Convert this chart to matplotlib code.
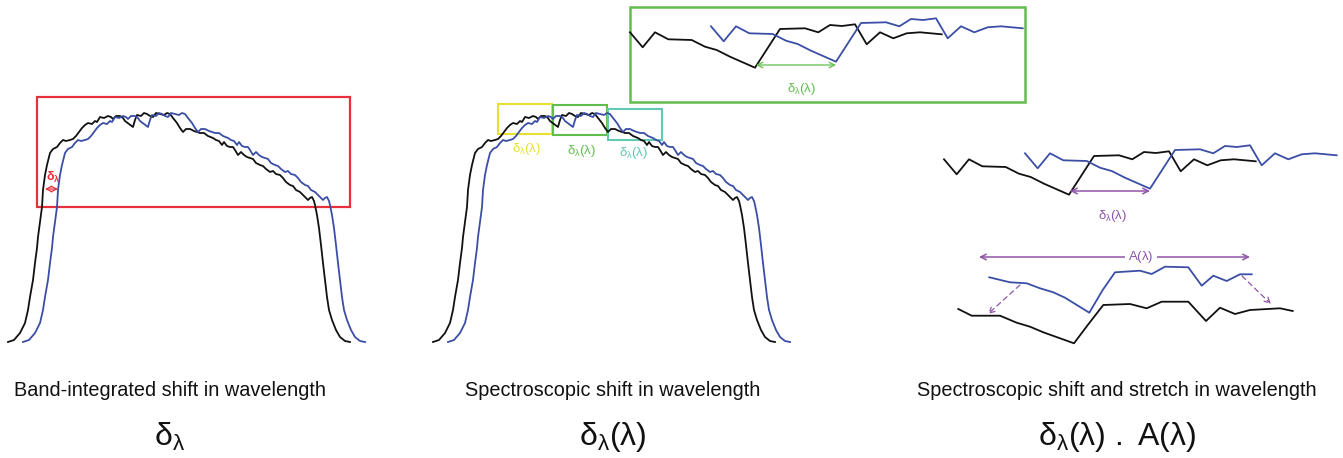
import matplotlib.pyplot as plt
import numpy as np

plt.rcParams['font.family'] = ['Liberation Sans', 'DejaVu Sans']
plt.rcParams['mathtext.fontset'] = 'custom'
plt.rcParams['mathtext.rm'] = 'Liberation Sans'
plt.rcParams['mathtext.it'] = 'Liberation Sans'
plt.rcParams['mathtext.default'] = 'regular'

# filter transmission profile (black), pixel units of the first panel
band_x = [8, 14, 20, 25, 28, 30, 33, 35, 37, 38, 40, 42, 43, 45, 47, 50, 53, 57, 60, 63,
          66, 70, 73, 76, 79, 82, 85, 88, 92, 95, 97, 100, 104, 108, 111, 113, 116, 120,
          123, 125, 129, 133, 135, 137, 141, 144, 147, 150, 153, 156, 160, 164, 167, 170,
          173, 177, 180, 183, 186, 190, 194, 197, 200, 204, 208, 213, 216, 219, 222, 224,
          227, 230, 233, 235, 238, 241, 244, 247, 250, 253, 256, 260, 263, 266, 270, 273,
          276, 280, 283, 286, 290, 293, 296, 300, 303, 306, 308, 310, 312, 314, 315, 317,
          319, 321, 323, 325, 327, 329, 332, 336, 340, 345, 350]
band_y = [342, 340, 333, 323, 310, 297, 280, 263, 248, 237, 222, 207, 190, 175, 165, 153,
          149, 147, 143, 140, 141, 140, 139, 136, 132, 128, 125, 123, 124, 121, 122, 117,
          118, 116, 117, 119, 116, 116, 118, 121, 124, 127, 120, 115, 116, 113, 114, 116,
          117, 113, 114, 115, 113, 114, 118, 123, 128, 132, 129, 129, 131, 132, 133, 133,
          136, 138, 140, 141, 145, 142, 146, 147, 147, 150, 155, 152, 155, 157, 158, 159,
          163, 165, 166, 169, 172, 171, 174, 175, 178, 182, 185, 186, 190, 192, 195, 198,
          200, 198, 197, 201, 205, 215, 228, 245, 263, 280, 297, 310, 320, 330, 337, 341,
          342]

# zoomed-in stretch of the profile (black), shown in the green inset
detail_x = [630, 642.7, 655, 668.3, 691.7, 705, 716.7, 730, 755, 780, 805, 818.3, 830,
            842, 855, 866.7, 880, 893.3, 906.7, 920, 941.7]
detail_y = [32.3, 47.3, 32.3, 39.3, 40, 46.7, 50, 56.7, 67.7, 29, 28.3, 32.3, 25, 26,
            24.3, 44.3, 32.3, 38.3, 33.3, 32.3, 34.3]

# shifted-and-stretched pair in the third panel
stretch_black_x = [958.3, 971.7, 1000, 1016.7, 1030, 1043.3, 1074, 1088.3, 1103.3, 1130,
                   1146.7, 1161.7, 1188.3, 1206, 1220, 1235, 1250, 1280, 1292.7]
stretch_black_y = [309, 315.7, 315.7, 322.7, 326.7, 332.3, 343.3, 324.3, 305, 304, 308.3,
                   301.7, 301.7, 321, 307.7, 314, 310, 308.3, 311]
stretch_blue_x = [989.3, 1010, 1026.7, 1040, 1053.3, 1065, 1089.3, 1102.7, 1115, 1140,
                  1151.7, 1165, 1188.3, 1201.7, 1213.3, 1226.7, 1240, 1251.7]
stretch_blue_y = [277.3, 282.3, 283.3, 288.3, 292.3, 297.7, 312.7, 290, 272.3, 270.7, 274,
                  266.7, 267.3, 285.7, 275.7, 281, 274.3, 274.3]

titles = ['Band-integrated shift in wavelength', 'Spectroscopic shift in wavelength',
          'Spectroscopic shift and stretch in wavelength']
symbols = [r'$\delta_{\lambda}$', r'$\delta_{\lambda}(\lambda)$',
           r'$\delta_{\lambda}(\lambda)\ .\ A(\lambda)$']
title_x = [170, 613, 1117]

BLACK = '#111111'
BLUE = '#3b4ea6'
RED = '#e8303c'
YELLOW = '#e6e12e'
GREEN = '#62bd4f'
TEAL = '#62c9b2'
PURPLE = '#8f55a8'

fig = plt.figure(figsize=(13.43, 4.58), dpi=100)
ax = fig.add_axes([0, 0, 1, 1])
ax.set_xlim(0, 1343)
ax.set_ylim(458, 0)
ax.axis('off')

bx = np.array(band_x, dtype=float)
by = np.array(band_y, dtype=float)
shift = 15

# panels 1 and 2: full profiles, blue shifted in wavelength
for off in [0, 425]:
    ax.plot(bx + off, by, color=BLACK, lw=1.3)
    ax.plot(bx + off + shift, by, color=BLUE, lw=1.3)


def box(x0, y0, x1, y1, color, lw=1.6):
    ax.add_patch(plt.Rectangle((x0, y0), x1 - x0, y1 - y0, fill=False,
                               edgecolor=color, lw=lw))


def arrow(x0, x1, y, color, lw=1.0, style='<->', ls='-'):
    ax.annotate('', xy=(x1, y), xytext=(x0, y),
                arrowprops=dict(arrowstyle=style, color=color, lw=lw,
                                linestyle=ls, shrinkA=0, shrinkB=0))


# panel 1 annotations
box(37, 97, 350, 207, RED)
arrow(45, 58, 189, RED, lw=0.9)
ax.text(53, 177, r'$\delta_{\lambda}$', color=RED, fontsize=9, ha='center', va='center',
        fontweight='bold')

# panel 2 sub-windows
for (x0, y0, x1, y1), c, lx, ly in [((498, 104, 552, 134), YELLOW, 527, 149),
                                    ((553, 105, 607, 135), GREEN, 582, 151),
                                    ((608, 109, 662, 140), TEAL, 634, 153)]:
    box(x0, y0, x1, y1, c, lw=1.5)
    ax.text(lx, ly, r'$\delta_{\lambda}(\lambda)$', color=c, fontsize=9.5,
            ha='center', va='center')

# green inset: zoom on one window
dx = np.array(detail_x)
dy = np.array(detail_y)
box(630, 7, 1025, 102, GREEN, lw=1.8)
ax.plot(dx, dy, color=BLACK, lw=1.3)
ax.plot(dx + 81, dy - 6, color=BLUE, lw=1.3)
arrow(756, 836, 65, GREEN, lw=0.9)
ax.text(802, 89, r'$\delta_{\lambda}(\lambda)$', color=GREEN, fontsize=9.5,
        ha='center', va='center')

# panel 3 top: same window, shift only
ax.plot(dx + 314, dy + 127, color=BLACK, lw=1.3)
ax.plot(dx + 314 + 81, dy + 121, color=BLUE, lw=1.3)
arrow(1070, 1150, 191, PURPLE, lw=1.1)
ax.text(1113, 216, r'$\delta_{\lambda}(\lambda)$', color=PURPLE, fontsize=9.5,
        ha='center', va='center')

# panel 3 bottom: shift and stretch
ax.plot(stretch_black_x, stretch_black_y, color=BLACK, lw=1.3)
ax.plot(stretch_blue_x, stretch_blue_y, color=BLUE, lw=1.3)
arrow(979, 1250, 257, PURPLE, lw=1.1)
ax.text(1141, 257, r'$A(\lambda)$', color=PURPLE, fontsize=9.5, ha='center', va='center',
        bbox=dict(facecolor='white', edgecolor='none', pad=2))
ax.annotate('', xy=(988, 314), xytext=(1020, 285),
            arrowprops=dict(arrowstyle='->', color=PURPLE, lw=0.9, linestyle=(0, (4, 3)),
                            shrinkA=0, shrinkB=0))
ax.annotate('', xy=(1271, 304), xytext=(1242, 276),
            arrowprops=dict(arrowstyle='->', color=PURPLE, lw=0.9, linestyle=(0, (4, 3)),
                            shrinkA=0, shrinkB=0))

# captions
for t, s, x in zip(titles, symbols, title_x):
    ax.text(x, 391, t, fontsize=14.3, ha='center', va='center', color=BLACK)
    ax.text(x, 437, s, fontsize=23, ha='center', va='center', color=BLACK)

fig.savefig('out.png', dpi=100)
